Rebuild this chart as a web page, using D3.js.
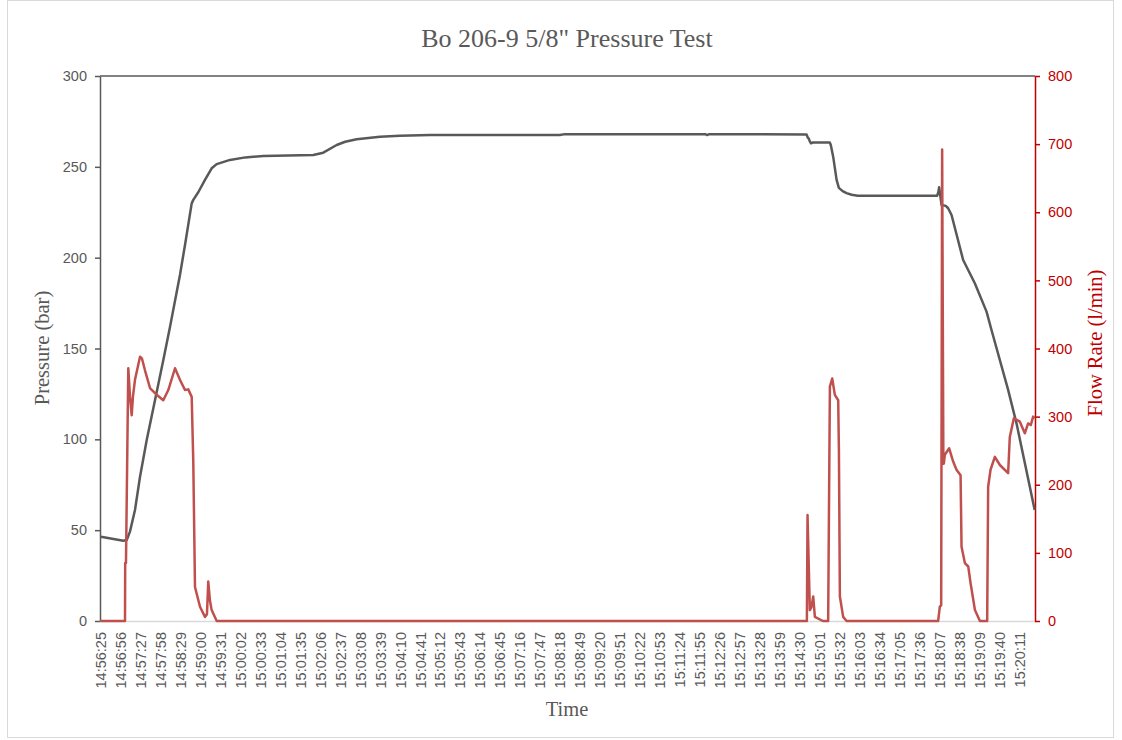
<!DOCTYPE html>
<html>
<head>
<meta charset="utf-8">
<script src="https://cdn.jsdelivr.net/npm/d3@7"></script>
<style>
  html, body { margin: 0; padding: 0; background: #fff; }
  svg { display: block; }
</style>
</head>
<body>
<svg id="chart" width="1122" height="740"></svg>
<script>
// ---- Data (seconds since 14:56:25) ----
const tickSeconds = d3.range(0, 1427, 31);          // a label every 31 s
const pressureTime = [0, 1, 35.6, 41, 46, 53.8, 61.6, 72, 87.5, 97.7, 108.1, 123.6, 131.4, 141.8, 144.3, 152, 162.4, 172.8, 180.6, 201.2, 225, 252.9, 330.5, 346, 366.8, 380, 397.8, 434, 465, 512, 713, 721, 938.7, 941.7, 944.8, 1096, 1098, 1099.5, 1101, 1102.8, 1105.8, 1132, 1133.6, 1137.3, 1142.6, 1146.1, 1152, 1158, 1166, 1175.6, 1298.6, 1300.5, 1301.7, 1302.8, 1305.5, 1312, 1315.7, 1321, 1339, 1357.1, 1375.3, 1383, 1408.8, 1421.8, 1450];
const pressureValue = [46.5, 46.4, 44.2, 44.6, 49.2, 61.1, 79.4, 99.6, 126, 143.5, 161.8, 190.5, 207, 229.9, 231.8, 236, 242.8, 249.2, 251.5, 253.8, 255.2, 256, 256.5, 257.8, 262, 263.8, 265.2, 266.6, 267.1, 267.5, 267.5, 268, 268, 267.5, 268, 267.8, 266, 265.5, 264, 263, 263.4, 263.4, 262, 255.6, 242.8, 238.4, 236.6, 235.5, 234.6, 234.1, 234.1, 236, 238.8, 236, 229, 228.5, 227.2, 223.5, 198.7, 185.9, 170.3, 160.2, 127.2, 108.8, 61.1];
const flowTime = [0, 38.3, 38.6, 39.8, 43.4, 46, 48.7, 50.7, 53.8, 61.6, 64.7, 69.3, 77.1, 87.5, 97.7, 105.5, 115.9, 123.6, 131.4, 136.5, 141.8, 144.3, 146.9, 154.7, 162.4, 165.5, 167.5, 170.1, 172.8, 180.6, 1096.5, 1097.5, 1101.1, 1103.4, 1106.3, 1108.9, 1121.3, 1129.5, 1132.2, 1135.8, 1139.9, 1145.1, 1146.2, 1147.7, 1152.8, 1158.1, 1300.2, 1302.8, 1304.9, 1306.4, 1308.3, 1309, 1310.6, 1317.3, 1323.5, 1328.7, 1335, 1336.5, 1341.7, 1346.9, 1350.6, 1357.3, 1365, 1376.3, 1377.8, 1381.5, 1388.2, 1396, 1408.8, 1411.4, 1417.7, 1427, 1434.7, 1439.8, 1444, 1447.6, 1450];
const flowValue = [0, 0, 85, 85, 371, 330, 302, 330, 354, 388, 385, 368, 342, 332, 324, 339, 371, 354, 339, 340, 329, 232, 50, 21, 6, 10, 58, 30, 16, 0, 0, 155.6, 16, 20, 36, 6, 0, 0, 344, 356, 332, 324, 250, 36, 6, 0, 0, 21, 23, 692, 231, 231, 244, 253.5, 234, 222, 214, 109, 85, 80, 55, 16, 0, 0, 197, 222, 241, 229, 217, 270, 297.6, 292.6, 275.5, 290, 287.7, 300, 297.6];
const pressureTicks = [0, 50, 100, 150, 200, 250, 300];
const flowTicks = [0, 100, 200, 300, 400, 500, 600, 700, 800];

// ---- Layout ----
const svg = d3.select("#chart");
const L = 100, R = 1035, T = 76, B = 621;
const gray = "#595959", red = "#c00000", flowRed = "#c0504d";
const sans = "'Liberation Sans', Arial, sans-serif";
const serif = "'Liberation Serif', 'Times New Roman', serif";

const x = d3.scaleLinear().domain([-0.5, 1450.5]).range([L, R]);
const yP = d3.scaleLinear().domain([0, 300]).range([B, T]);
const yF = d3.scaleLinear().domain([0, 800]).range([B, T]);

// chart border
svg.append("rect").attr("x", 7.5).attr("y", 0.5).attr("width", 1106).attr("height", 737)
  .attr("fill", "#fff").attr("stroke", "#d9d9d9").attr("stroke-width", 1);

// title
svg.append("text").attr("x", 567).attr("y", 47).attr("text-anchor", "middle")
  .attr("font-family", serif).attr("font-size", 26).attr("fill", gray)
  .text('Bo 206-9 5/8" Pressure Test');

// top border line
svg.append("line").attr("x1", L).attr("x2", R).attr("y1", T).attr("y2", T)
  .attr("stroke", gray).attr("stroke-width", 1.5);

// x axis
const fmt = s => {
  const base = 14 * 3600 + 56 * 60 + 25 + s;
  const h = Math.floor(base / 3600), m = Math.floor((base % 3600) / 60), sec = base % 60;
  return String(h).padStart(2, "0") + ":" + String(m).padStart(2, "0") + ":" + String(sec).padStart(2, "0");
};
const xAxis = svg.append("g").attr("transform", `translate(0,${B})`)
  .call(d3.axisBottom(x).tickValues(tickSeconds).tickFormat(fmt).tickSize(0).tickPadding(0));
xAxis.select(".domain").attr("stroke", "#d9d9d9").attr("stroke-width", 1.5);
xAxis.selectAll("text")
  .attr("font-family", sans).attr("font-size", 14.5).attr("fill", gray)
  .attr("transform", "rotate(-90)").attr("text-anchor", "end")
  .attr("x", -11).attr("y", 0).attr("dy", "0.35em");

// left axis
const yAxisL = svg.append("g").attr("transform", `translate(${L},0)`)
  .call(d3.axisLeft(yP).tickValues(pressureTicks).tickSize(5).tickSizeOuter(0).tickPadding(8));
yAxisL.select(".domain").attr("stroke", gray).attr("stroke-width", 1.5);
yAxisL.selectAll(".tick line").attr("stroke", gray).attr("stroke-width", 1.5);
yAxisL.selectAll("text").attr("font-family", sans).attr("font-size", 14.5).attr("fill", gray);

// right axis
const yAxisR = svg.append("g").attr("transform", `translate(${R},0)`)
  .call(d3.axisRight(yF).tickValues(flowTicks).tickSize(5).tickSizeOuter(0).tickPadding(8));
yAxisR.select(".domain").attr("stroke", red).attr("stroke-width", 1.5);
yAxisR.selectAll(".tick line").attr("stroke", red).attr("stroke-width", 1.5);
yAxisR.selectAll("text").attr("font-family", sans).attr("font-size", 14.5).attr("fill", red);

// axis titles
svg.append("text").attr("transform", "translate(49,348) rotate(-90)").attr("text-anchor", "middle")
  .attr("font-family", serif).attr("font-size", 20.5).attr("fill", gray).text("Pressure (bar)");
svg.append("text").attr("transform", "translate(1102,343) rotate(-90)").attr("text-anchor", "middle")
  .attr("font-family", serif).attr("font-size", 20.5).attr("fill", red).text("Flow Rate (l/min)");
svg.append("text").attr("x", 567).attr("y", 716).attr("text-anchor", "middle")
  .attr("font-family", serif).attr("font-size", 20.5).attr("fill", gray).text("Time");

// lines
const pData = pressureTime.map((t, i) => [t, pressureValue[i]]);
const fData = flowTime.map((t, i) => [t, flowValue[i]]);
svg.append("path").datum(pData)
  .attr("d", d3.line().x(d => x(d[0])).y(d => yP(d[1])))
  .attr("fill", "none").attr("stroke", gray).attr("stroke-width", 2.5).attr("stroke-linejoin", "round");
svg.append("path").datum(fData)
  .attr("d", d3.line().x(d => x(d[0])).y(d => yF(d[1])))
  .attr("fill", "none").attr("stroke", flowRed).attr("stroke-width", 2.5).attr("stroke-linejoin", "round");
</script>
</body>
</html>
